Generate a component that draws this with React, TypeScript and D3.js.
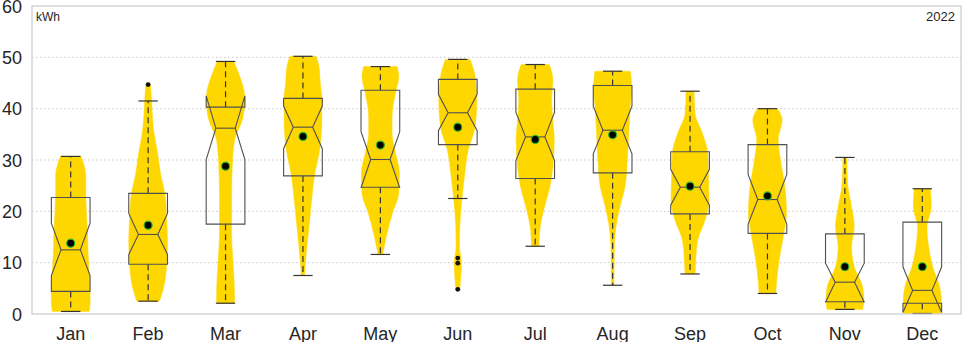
import React from "react";
import * as d3 from "d3";

const months = ["Jan", "Feb", "Mar", "Apr", "May", "Jun", "Jul", "Aug", "Sep", "Oct", "Nov", "Dec"];
const q1 = [4.4, 9.7, 17.5, 26.9, 24.7, 33.0, 26.4, 27.5, 19.5, 15.7, 2.4, 2.1];
const medians = [12.5, 15.5, 36.2, 36.4, 30.1, 39.2, 34.5, 35.8, 24.7, 22.3, 6.2, 4.6];
const q3 = [22.7, 23.5, 40.3, 42.0, 43.6, 45.7, 43.8, 44.5, 31.6, 33.0, 15.6, 17.9];
const notchLo = [7.5, 11.6, 30.1, 32.2, 24.6, 35.7, 29.9, 31.2, 21.2, 17.5, 2.3, 0.3];
const notchHi = [17.7, 19.6, 42.5, 40.5, 35.5, 42.8, 39.3, 40.5, 28.2, 27.2, 9.9, 9.2];
const whiskerLo = [0.5, 2.5, 2.1, 7.5, 11.6, 22.5, 13.2, 5.6, 7.8, 4.0, 0.9, 0.1];
const whiskerHi = [30.7, 41.5, 49.2, 50.2, 48.2, 49.6, 48.6, 47.3, 43.4, 40.0, 30.5, 24.4];
const means = [13.8, 17.3, 28.8, 34.6, 32.9, 36.4, 34.0, 34.9, 24.9, 23.0, 9.2, 9.2];
const outliers: number[][] = [[], [44.7], [], [], [], [10.9, 9.9, 4.8], [], [], [], [], [], []];

// violin density profiles: [value, density]
const violins: [number, number][][] = [
  [[0.5, 55], [2, 58], [4, 58], [8, 55], [12, 52], [16, 50], [20, 47], [24, 45], [27, 45], [29, 40], [30.7, 31]],
  [[2.5, 34], [5.3, 47], [9.2, 55], [14.4, 58], [19, 55], [23.5, 50], [27, 38], [31.9, 27], [35, 18], [38.4, 13], [41.7, 10], [44.7, 7]],
  [[2.1, 25], [2.7, 27], [6, 26], [10.5, 22], [15.8, 18], [22.2, 18], [28.7, 20], [33.9, 27], [37.8, 50], [41.7, 58], [43.6, 55], [46.2, 43], [49.2, 25]],
  [[7.5, 5], [10.5, 8], [15.7, 16], [22.2, 26], [26.8, 34], [32, 50], [36.5, 56], [41.7, 57], [44.9, 52], [48.2, 48], [50.2, 39]],
  [[11.6, 7], [15.7, 20], [19.6, 36], [23.5, 55], [27.4, 57], [32, 43], [35.2, 35], [38.4, 35], [43, 45], [46.2, 55], [48.2, 50]],
  [[4.8, 6], [7.3, 9], [9.9, 11], [13.1, 5], [17, 6], [22.2, 12], [27.4, 21], [31.9, 31], [36.5, 52], [41.7, 57], [46.2, 52], [49.6, 37]],
  [[13.2, 11], [17, 15], [20.9, 28], [24.8, 44], [28.7, 53], [33.9, 57], [38.4, 52], [41.7, 49], [45.6, 53], [48.6, 42]],
  [[5.6, 4], [12.5, 5], [17, 10], [20.9, 22], [24.8, 37], [30, 44], [35.2, 48], [39.7, 52], [44.3, 57], [47.3, 53]],
  [[7.8, 15], [10.5, 17], [14.4, 23], [18.3, 45], [22.2, 57], [26.8, 55], [31.3, 53], [35.2, 37], [39, 15], [43.4, 12]],
  [[4.0, 25], [6, 27], [10.5, 35], [15.7, 49], [19.6, 57], [24.8, 52], [30, 39], [33.9, 32], [37.8, 44], [40, 30]],
  [[0.9, 53], [2.7, 57], [5.3, 53], [9.2, 28], [13.1, 20], [17, 28], [20.9, 20], [25.5, 8], [30.5, 6]],
  [[0.1, 55], [2.7, 57], [5.3, 52], [9.2, 31], [13.1, 19], [17, 14], [20.9, 27], [24.4, 24]],
];
const yTicks = [0, 10, 20, 30, 40, 50, 60];
const unitLabel = "kWh";
const yearLabel = "2022";

const W = 964;
const H = 342;
const left = 32;
const right = 961;
const top = 6;
const bottom = 314;
const font = "'Liberation Sans', Arial, sans-serif";

export default function App() {
  const x = d3.scaleBand<string>().domain(months).range([left, right]).padding(0);
  const y = d3.scaleLinear().domain([0, 60]).range([bottom, top]);
  const bw = x.bandwidth();
  const dens = d3.scaleLinear().domain([0, 58]).range([0, bw / 4]);
  const boxHalf = bw / 4;
  const notchHalf = bw / 8;
  const capHalf = bw / 8;

  return (
    <svg width={W} height={H} style={{ position: "absolute", left: 0, top: 0, background: "#fff" }}>
      <rect x={0} y={0} width={W} height={H} fill="#fff" />
      {yTicks.slice(1, -1).map((t) => (
        <line key={t} x1={left} x2={right} y1={y(t)} y2={y(t)} stroke="#c8c8c8" strokeWidth={1} strokeDasharray="1.5,2.5" />
      ))}
      {months.map((m, i) => {
        const cx = (x(m) as number) + bw / 2;
        const area = d3
          .area<[number, number]>()
          .y((d) => y(d[0]))
          .x0((d) => cx - dens(d[1]))
          .x1((d) => cx + dens(d[1]))
          .curve(d3.curveMonotoneY);
        const L = cx - boxHalf;
        const R = cx + boxHalf;
        const boxPts: [number, number][] = [
          [L, y(q1[i])],
          [R, y(q1[i])],
          [R, y(notchLo[i])],
          [cx + notchHalf, y(medians[i])],
          [R, y(notchHi[i])],
          [R, y(q3[i])],
          [L, y(q3[i])],
          [L, y(notchHi[i])],
          [cx - notchHalf, y(medians[i])],
          [L, y(notchLo[i])],
        ];
        const boxPath = "M" + boxPts.map((p) => p.join(",")).join("L") + "Z";
        return (
          <g key={m}>
            <path d={area(violins[i]) || ""} fill="#FFD700" stroke="#FFD700" strokeWidth={0.5} />
            <line x1={cx} x2={cx} y1={y(q3[i])} y2={y(whiskerHi[i])} stroke="#333" strokeWidth={1.2} strokeDasharray="6,4" />
            <line x1={cx} x2={cx} y1={y(q1[i])} y2={y(whiskerLo[i])} stroke="#333" strokeWidth={1.2} strokeDasharray="6,4" />
            <line x1={cx - capHalf} x2={cx + capHalf} y1={y(whiskerHi[i])} y2={y(whiskerHi[i])} stroke="#333" strokeWidth={1.2} />
            <line x1={cx - capHalf} x2={cx + capHalf} y1={y(whiskerLo[i])} y2={y(whiskerLo[i])} stroke="#333" strokeWidth={1.2} />
            <path d={boxPath} fill="none" stroke="#505050" strokeWidth={1.1} />
            <line x1={cx - notchHalf} x2={cx + notchHalf} y1={y(medians[i])} y2={y(medians[i])} stroke="#505050" strokeWidth={1.1} />
            {outliers[i].map((o, k) => (
              <circle key={k} cx={cx} cy={y(o)} r={2.4} fill="#111" />
            ))}
            <circle cx={cx} cy={y(means[i])} r={4} fill="#000" stroke="#2db82d" strokeWidth={1.2} />
            <text x={cx} y={340} textAnchor="middle" fontFamily={font} fontSize={18} fill="#262626">
              {m}
            </text>
          </g>
        );
      })}
      <rect x={left} y={top} width={right - left} height={bottom - top} fill="none" stroke="#cccccc" strokeWidth={1.2} />
      {yTicks.map((t) => (
        <text key={t} x={22} y={y(t) + 6.5} textAnchor="end" fontFamily={font} fontSize={18} fill="#262626">
          {t}
        </text>
      ))}
      <text x={36} y={21} fontFamily={font} fontSize={12} fill="#262626">
        {unitLabel}
      </text>
      <text x={955} y={21} textAnchor="end" fontFamily={font} fontSize={13} fill="#262626">
        {yearLabel}
      </text>
    </svg>
  );
}
